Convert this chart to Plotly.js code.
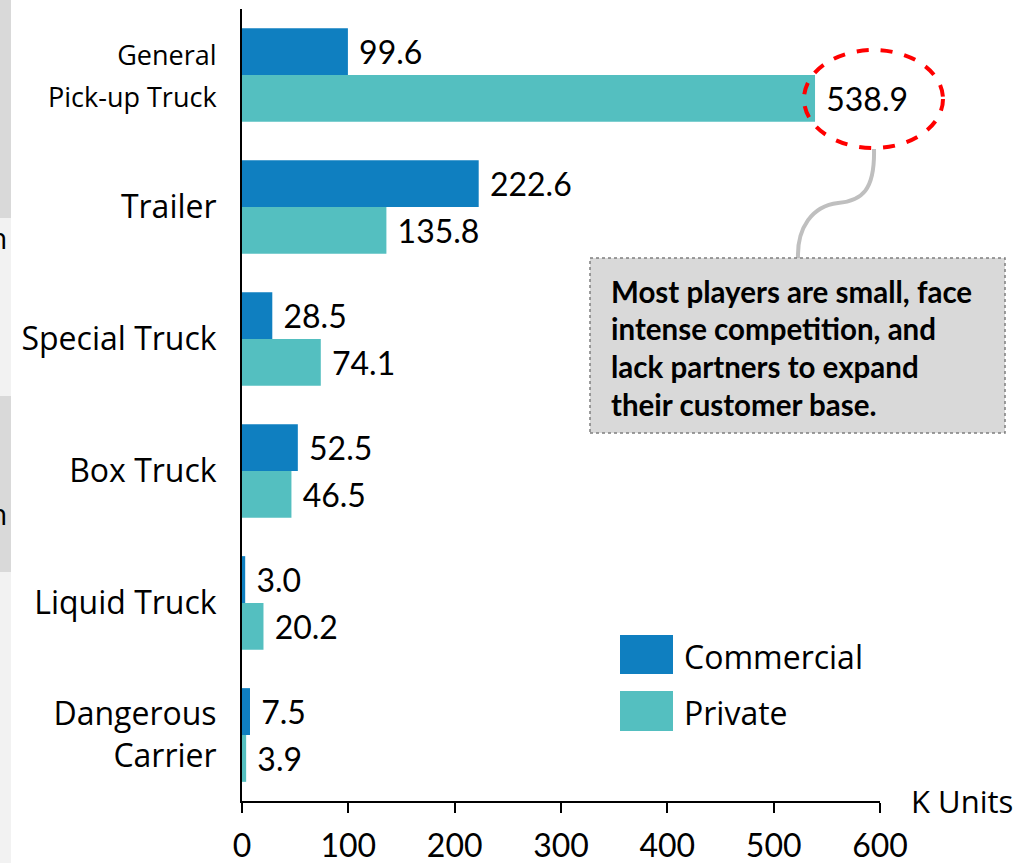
<!DOCTYPE html>
<html>
<head>
<meta charset="utf-8">
<script src="https://cdn.plot.ly/plotly-3.0.1.min.js"></script>
<style>
  html, body { margin: 0; padding: 0; background: #ffffff; }
  #chart { width: 1024px; height: 863px; }
</style>
</head>
<body>
<div id="chart"></div>
<script>
// ---- data ----
const categories = ['General Pick-up Truck', 'Trailer', 'Special Truck', 'Box Truck', 'Liquid Truck', 'Dangerous Carrier'];
const categoryLabels = ['<span style="font-size:27px">General<br>Pick-up Truck</span>', 'Trailer', 'Special Truck', 'Box Truck', 'Liquid Truck', 'Dangerous<br>Carrier'];
const commercial = [99.6, 222.6, 28.5, 52.5, 3.0, 7.5];
const privateUnits = [538.9, 135.8, 74.1, 46.5, 20.2, 3.9];
const seriesNames = ['Commercial', 'Private'];
const xTicks = [0, 100, 200, 300, 400, 500, 600];
const unitLabel = 'K Units';
const calloutLines = ['Most players are small, face', 'intense competition, and', 'lack partners to expand', 'their customer base.'];

// ---- helpers (pixel -> paper) ----
const W = 1024, H = 863;
const px = x => x / W;
const py = y => 1 - y / H;

const colCom = '#0F7FC0';
const colPri = '#54BFC0';
const labelFamily = '"Open Sans", "Noto Sans", sans-serif';
const numFamily = 'Lato, "Open Sans", sans-serif';

const traces = [
  {
    type: 'bar', orientation: 'h', name: seriesNames[0],
    y: categories, x: commercial,
    marker: { color: colCom },
    texttemplate: '\u00a0%{x:.1f}', textposition: 'outside', cliponaxis: false,
    constraintext: 'none',
    textfont: { family: numFamily, size: 32, color: '#000' },
    hoverinfo: 'x+y'
  },
  {
    type: 'bar', orientation: 'h', name: seriesNames[1],
    y: categories, x: privateUnits,
    marker: { color: colPri },
    texttemplate: '\u00a0%{x:.1f}', textposition: 'outside', cliponaxis: false,
    constraintext: 'none',
    textfont: { family: numFamily, size: 32, color: '#000' },
    hoverinfo: 'x+y'
  }
];

const shapes = [];
const annotations = [];

// left-edge slide remnants
[[0, 218, '#D9D9D9'], [218, 396, '#F2F2F2'], [396, 572, '#D9D9D9'], [572, 863, '#F2F2F2']].forEach(s => {
  shapes.push({ type: 'rect', xref: 'paper', yref: 'paper', x0: 0, x1: px(11), y0: py(s[1]), y1: py(s[0]), fillcolor: s[2], line: { width: 0 }, layer: 'below' });
});
[237, 513].forEach(y => {
  annotations.push({ xref: 'paper', yref: 'paper', x: px(9), y: py(y), xanchor: 'right', yanchor: 'middle', text: 'n', showarrow: false, font: { family: labelFamily, size: 30, color: '#000' } });
});

// callout ellipse around the largest value
shapes.push({ type: 'circle', xref: 'paper', yref: 'paper', x0: px(804), x1: px(943), y0: py(148), y1: py(50), line: { color: '#FF0000', width: 4, dash: 'dash' }, layer: 'above' });
// connector curve
const P = (x, y) => px(x).toFixed(5) + ',' + py(y).toFixed(5);
shapes.push({ type: 'path', xref: 'paper', yref: 'paper',
  path: 'M ' + P(874, 149) + ' C ' + P(875, 190) + ' ' + P(862, 201) + ' ' + P(838, 203) + ' C ' + P(812, 206) + ' ' + P(797, 228) + ' ' + P(798, 258),
  line: { color: '#BFBFBF', width: 4 }, layer: 'above' });
// callout box
shapes.push({ type: 'rect', xref: 'paper', yref: 'paper', x0: px(590), x1: px(1005), y0: py(433), y1: py(258), fillcolor: '#D9D9D9', line: { color: '#7F7F7F', width: 1.5, dash: 'dot' }, layer: 'above' });
calloutLines.forEach((t, i) => {
  annotations.push({ xref: 'paper', yref: 'paper', x: px(609), y: py(291 + i * 37.7), xanchor: 'left', yanchor: 'middle', text: '<b>' + t + '</b>', showarrow: false, align: 'left', font: { family: numFamily, size: 29.5, color: '#000' } });
});

// custom legend
[[635, 674, colCom, 656, seriesNames[0]], [691, 731, colPri, 712, seriesNames[1]]].forEach(l => {
  shapes.push({ type: 'rect', xref: 'paper', yref: 'paper', x0: px(620), x1: px(673), y0: py(l[1]), y1: py(l[0]), fillcolor: l[2], line: { width: 0 } });
  annotations.push({ xref: 'paper', yref: 'paper', x: px(682), y: py(l[3]), xanchor: 'left', yanchor: 'middle', text: l[4], showarrow: false, font: { family: labelFamily, size: 32, color: '#000' } });
});

// unit label
annotations.push({ xref: 'paper', yref: 'paper', x: px(909), y: py(801), xanchor: 'left', yanchor: 'middle', text: unitLabel, showarrow: false, font: { family: labelFamily, size: 31, color: '#000' } });

const layout = {
  width: W, height: H,
  margin: { l: 0, r: 0, t: 0, b: 0, pad: 0 },
  paper_bgcolor: '#ffffff', plot_bgcolor: '#ffffff',
  showlegend: false,
  barmode: 'group', bargap: 0.29, bargroupgap: 0,
  xaxis: {
    domain: [px(242), px(880)],
    range: [0, 600], tickvals: xTicks, ticktext: xTicks.map(String),
    showgrid: false, zeroline: false,
    showline: true, linecolor: '#000', linewidth: 2,
    ticks: 'outside', ticklen: 10, tickwidth: 2, tickcolor: '#000',
    ticklabelstandoff: 6,
    tickfont: { family: numFamily, size: 32, color: '#000' },
    fixedrange: true
  },
  yaxis: {
    domain: [py(801), py(9)],
    type: 'category', autorange: 'reversed',
    tickvals: categories, ticktext: categoryLabels,
    showgrid: false, zeroline: false,
    showline: true, linecolor: '#000', linewidth: 2,
    ticks: '', ticklabelstandoff: 17,
    tickfont: { family: labelFamily, size: 32, color: '#000' },
    fixedrange: true
  },
  shapes: shapes,
  annotations: annotations
};

Plotly.newPlot('chart', traces, layout, { displayModeBar: false, staticPlot: true });
</script>
</body>
</html>
